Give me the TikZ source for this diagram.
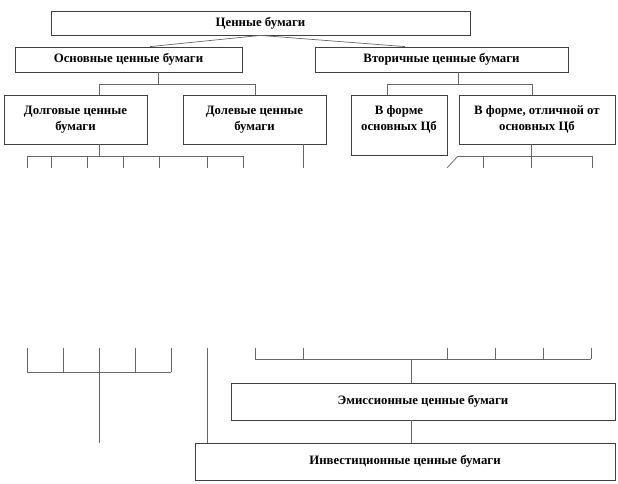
\documentclass[tikz,border=0pt]{standalone}
\usepackage{fontspec}
\setmainfont{Liberation Serif}
\usepackage{tikz}
\usetikzlibrary{positioning}
\tikzstyle{cbbox}=[rectangle,draw=black!75,line width=0.8pt,fill=white,inner sep=1pt,align=center,font=\bfseries\fontsize{12.8}{16}\selectfont]
\tikzstyle{cbline}=[draw=black!60,line width=0.7pt]

\begin{document}
\begin{tikzpicture}[x=1pt,y=-1pt]
				
				\useasboundingbox (0,0) rectangle (618,483);
				
				\begin{scope}
				
				\def\h{12}
				\def\k{11}
				
				\node [cbbox, minimum width=419pt, minimum height=24pt] (cb1) at (260.5,23) {Ценные бумаги};
				
				\node [cbbox, minimum width=227pt, minimum height=25pt] (cb2) at (128.5,59.5) {Основные ценные бумаги};
				\node [cbbox, minimum width=253pt, minimum height=25pt] (cb3) at (441.5,59.5) {Вторичные ценные бумаги};
				
				\node [cbbox, minimum width=143pt, minimum height=49pt] (cb4) at (75.5,119.5) {Долговые ценные\\бумаги};
				\node [cbbox, minimum width=143pt, minimum height=49pt] (cb5) at (254.5,119.5) {Долевые ценные\\бумаги};
				
				\node [cbbox, minimum width=96pt, minimum height=60pt] (cb6) at (399,125) {В форме\\основных Цб\\[-3pt]~};
				\node [cbbox, minimum width=156pt, minimum height=49pt] (cb7) at (537,119.5) {В форме, отличной от\\основных Цб};
				
				\node [cbbox, minimum width=384pt, minimum height=37pt] (cb8) at (423,401.5) {Эмиссионные ценные бумаги};
				\node [cbbox, minimum width=420pt, minimum height=37pt] (cb9) at (405,461.5) {Инвестиционные ценные бумаги};
				
				
				
				% branch points
				\coordinate (j2) at (158,84);
				\coordinate (j3) at (458,84);
				\coordinate (j4) at (99,156);
				\coordinate (j7) at (531,156);
				\coordinate (j8) at (411,359);
				\coordinate (j9) at (99,372);
				
				\coordinate (a1) at (150,0);
				\coordinate (a2) at (405,0);
				\coordinate (a4) at (99,0);
				\coordinate (a5) at (255,0);
				\coordinate (a6) at (387,0);
				\coordinate (a7) at (532,0);
				\coordinate (a9) at (207,0);
				
				\draw[cbline] (cb1.south) -- (cb2.north -| a1);
				\draw[cbline] (cb1.south) -- (cb3.north -| a2);
				
				\draw[cbline] (cb2.south -| j2) -- (j2);
				\draw[cbline] (j2 -| a4) -- (j2 -| a5);
				\draw[cbline] (j2 -| a4) -- (cb4.north -| a4);
				\draw[cbline] (j2 -| a5) -- (cb5.north -| a5);
				
				\draw[cbline] (cb3.south -| j3) -- (j3);
				\draw[cbline] (j3 -| a6) -- (j3 -| a7);
				\draw[cbline] (j3 -| a6) -- (cb6.north -| a6);
				\draw[cbline] (j3 -| a7) -- (cb7.north -| a7);
				
				
				
				\draw[cbline] (cb4.south -| j4) -- (j4);
				\draw[cbline] (27,156) -- (243,156);
				\draw[cbline] (27,156) -- +(0,\h);
				\draw[cbline] (51,156) -- +(0,\h);
				\draw[cbline] (87,156) -- +(0,\h);
				\draw[cbline] (123,156) -- +(0,\h);
				\draw[cbline] (159,156) -- +(0,\h);
				\draw[cbline] (207,156) -- +(0,\h);
				\draw[cbline] (243,156) -- +(0,\h);
				
				\draw[cbline] (cb5.south -| 303,0) -- +(0,24);
				
				\draw[cbline] (cb7.south -| j7) -- (j7);
				\draw[cbline] (458,156) -- (592,156);
				\draw[cbline] (458,156) -- +(-11,\h);
				\draw[cbline] (483,156) -- +(0,\h);
				\draw[cbline] (531,156) -- +(0,\h);
				\draw[cbline] (592,156) -- +(0,\h);
				
				
				
				\draw[cbline] (27,348) -- +(0,24);
				\draw[cbline] (63,348) -- +(0,24);
				\draw[cbline] (99,348) -- +(0,24);
				\draw[cbline] (135,348) -- +(0,24);
				\draw[cbline] (171,348) -- +(0,24);
				\draw[cbline] (27,372) -- (171,372);
				\draw[cbline] (j9) -- +(0,71);
				
				\draw[cbline] (cb9.north -| a9) -- +(0,-95);
				
				\draw[cbline] (255,348) -- +(0,\k);
				\draw[cbline] (303,348) -- +(0,\k);
				\draw[cbline] (447,348) -- +(0,\k);
				\draw[cbline] (495,348) -- +(0,\k);
				\draw[cbline] (543,348) -- +(0,\k);
				\draw[cbline] (591,348) -- +(0,\k);
				\draw[cbline] (255,359) -- (591,359);
				\draw[cbline] (j8) -- (cb8.north -| j8);
				\draw[cbline] (cb8.south -| j8) -- (cb9.north -| j8);
				\end{scope}
				\end{tikzpicture}
\end{document}
